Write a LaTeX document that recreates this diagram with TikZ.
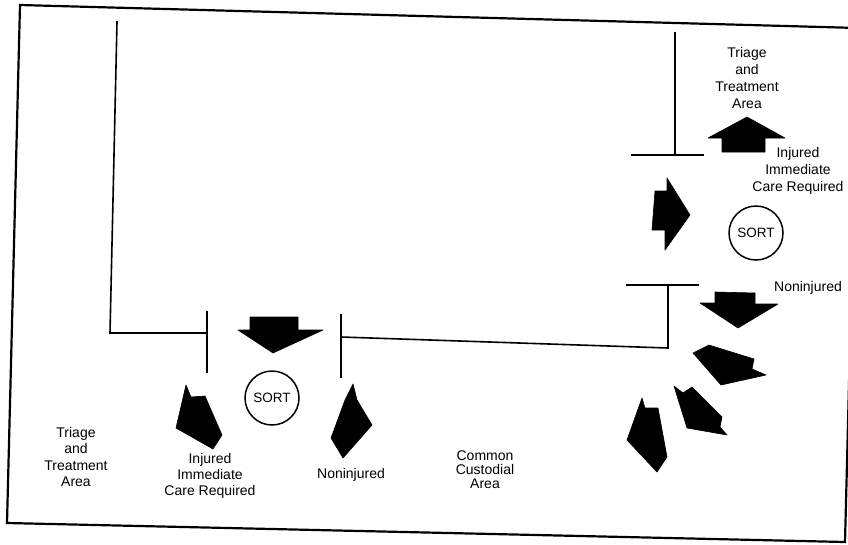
\documentclass[tikz,border=0pt]{standalone}
\usepackage{fontspec}
\setmainfont{Liberation Sans}
\begin{document}
\begin{tikzpicture}[x=1pt,y=-1pt,
  wall/.style={line width=1.6pt, line cap=rect},
  frameline/.style={line width=2.2pt, line join=miter},
  blk/.style={fill=black, draw=black, line width=0.6pt, line join=round},
  lbl/.style={font=\fontsize{14}{17}\selectfont, align=center, inner sep=0pt},
  sortc/.style={circle, draw, line width=1.5pt, minimum size=54pt, inner sep=0pt, font=\fontsize{13.5}{15}\selectfont}]
\useasboundingbox (0,0) rectangle (848,544);
\clip (0,0) rectangle (848,544);
% frame
\draw[frameline] (20,5) -- (858,28) -- (845,542) -- (7,523) -- cycle;
% walls, left group
\coordinate (la) at (117,22);
\coordinate (lb) at (110,333);
\coordinate (lc) at (207,333);
\coordinate (ld) at (207,312);
\coordinate (le) at (207,372);
\draw[wall] (la) -- (lb) -- (lc);
\draw[wall] (ld) -- (le);
\coordinate (ma) at (341,315);
\coordinate (mb) at (341,377);
\coordinate (mc) at (341,337);
\coordinate (md) at (668,348);
\coordinate (me) at (668,285);
\coordinate (mf) at (627,285);
\coordinate (mg) at (698,285);
\draw[wall] (ma) -- (mb);
\draw[wall] (mc) -- (md) -- (me);
\draw[wall] (mf) -- (mg);
\coordinate (ua) at (675,33);
\coordinate (ub) at (675,155);
\coordinate (uc) at (632,155);
\coordinate (ud) at (703,155);
\draw[wall] (ua) -- (ub);
\draw[wall] (uc) -- (ud);
% arrows, left group
\fill[blk] (250,317) -- (298,317) -- (298,330) -- (323,330) -- (273,353) -- (238,330) -- (250,330) -- cycle;
\fill[blk] (186,385) -- (191,397) -- (205,396) -- (222,435) -- (213,449) -- (176,428) -- cycle;
\fill[blk] (353,384) -- (357,400) -- (372,425) -- (343,458) -- (331,438) -- (345,400) -- cycle;
% arrows, right group
\fill[blk] (722,152) -- (722,138) -- (708,138) -- (747,117) -- (785,138) -- (765,138) -- (765,152) -- cycle;
\fill[blk] (655,191) -- (667,191) -- (667,178) -- (690,215) -- (665,250) -- (665,230) -- (652,230) -- cycle;
\fill[blk] (715,292) -- (755,293) -- (755,304) -- (778,304) -- (738,328) -- (700,303) -- (715,303) -- cycle;
\fill[blk] (693,353) -- (709,345) -- (754,359) -- (752,369) -- (766,375) -- (721,385) -- cycle;
\fill[blk] (674,386) -- (683,393) -- (692,387) -- (722,417) -- (720,427) -- (727,435) -- (687,428) -- cycle;
\fill[blk] (642,398) -- (645,408) -- (658,408) -- (667,457) -- (657,472) -- (627,440) -- cycle;
% sort circles
\node[sortc] (sortL) at (272,398) {SORT};
\node[sortc] (sortR) at (756,233) {SORT};
% labels
\node[lbl] (triR) at (747,78) {Triage\\and\\Treatment\\Area};
\node[lbl] (injR) at (798,171) {Injured\\Immediate\\Care Required};
\node[lbl] (nonR) at (808,288) {Noninjured};
\node[lbl, font=\fontsize{14}{16.3}\selectfont] (triL) at (76,457) {Triage\\and\\Treatment\\Area};
\node[lbl, font=\fontsize{14}{16}\selectfont] (injL) at (210,476) {Injured\\Immediate\\Care Required};
\node[lbl] (nonL) at (351,475) {Noninjured};
\node[lbl, font=\fontsize{14}{14}\selectfont] (com) at (485,470) {Common\\Custodial\\Area};
\end{tikzpicture}
\end{document}
